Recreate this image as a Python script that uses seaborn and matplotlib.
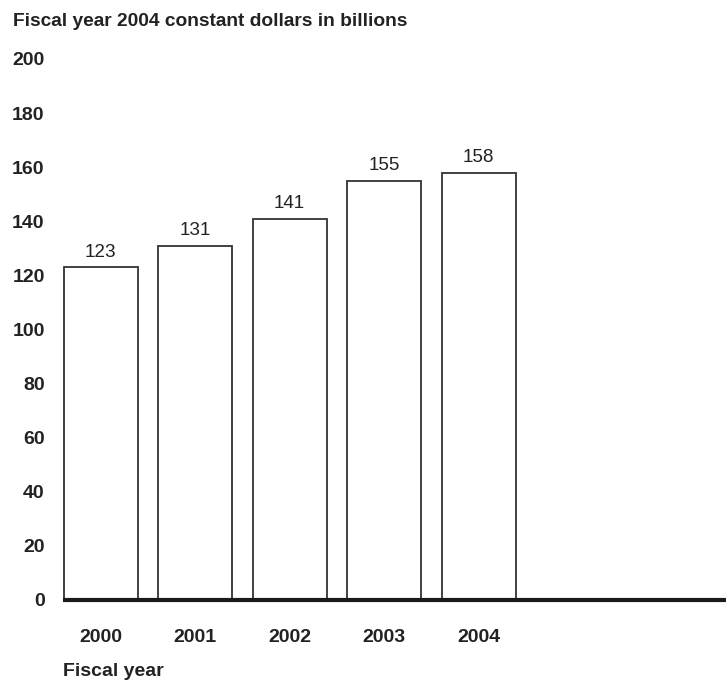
import matplotlib
matplotlib.use("Agg")
import matplotlib.pyplot as plt
import seaborn as sns
import pandas as pd

# Spending by fiscal year, constant FY2004 dollars (billions)
years = ["2000", "2001", "2002", "2003", "2004"]
amounts = [123, 131, 141, 155, 158]
y_ticks = [0, 20, 40, 60, 80, 100, 120, 140, 160, 180, 200]

df = pd.DataFrame({"year": years, "amount": amounts})

sns.set_theme(style="white")
plt.rcParams["font.family"] = ["Liberation Sans", "DejaVu Sans"]

fig = plt.figure(figsize=(7.26, 6.81), dpi=100)
ax = fig.add_axes([0.0865, 0.119, 0.9135, 0.7944])

bar_w = 0.784
sns.barplot(data=df, x="year", y="amount", order=years, width=bar_w,
            color="white", edgecolor="#333333", linewidth=1.3, ax=ax)

for i, v in enumerate(amounts):
    ax.annotate(f"{v}", xy=(i, v), xytext=(0, 7.5), textcoords="offset points",
                ha="center", va="baseline", fontsize=13.6, color="#222222")

ax.set_xlim(-bar_w / 2 - 0.01, 6.62)
ax.set_ylim(0, 200)
ax.set_yticks(y_ticks)
ax.set_yticklabels([str(t) for t in y_ticks], fontsize=14, fontweight="bold",
                   color="#222222")
for lbl in ax.get_xticklabels():
    lbl.set_fontsize(14)
    lbl.set_fontweight("bold")
    lbl.set_color("#222222")
ax.tick_params(axis="y", length=0, pad=13)
ax.tick_params(axis="x", length=0, pad=21)
ax.set_xlabel("")
ax.set_ylabel("")

for side in ["top", "right", "left"]:
    ax.spines[side].set_visible(False)
ax.spines["bottom"].set_linewidth(3)
ax.spines["bottom"].set_color("#1a1a1a")
ax.spines["bottom"].set_capstyle("butt")

fig.text(13 / 726, 1 - 22 / 681, "Fiscal year 2004 constant dollars in billions",
         ha="left", va="center", fontsize=13.8, fontweight="bold", color="#222222")
fig.text(63 / 726, 1 - 672 / 681, "Fiscal year", ha="left", va="center",
         fontsize=14, fontweight="bold", color="#222222")

fig.savefig("out.png", dpi=100, facecolor="white")
